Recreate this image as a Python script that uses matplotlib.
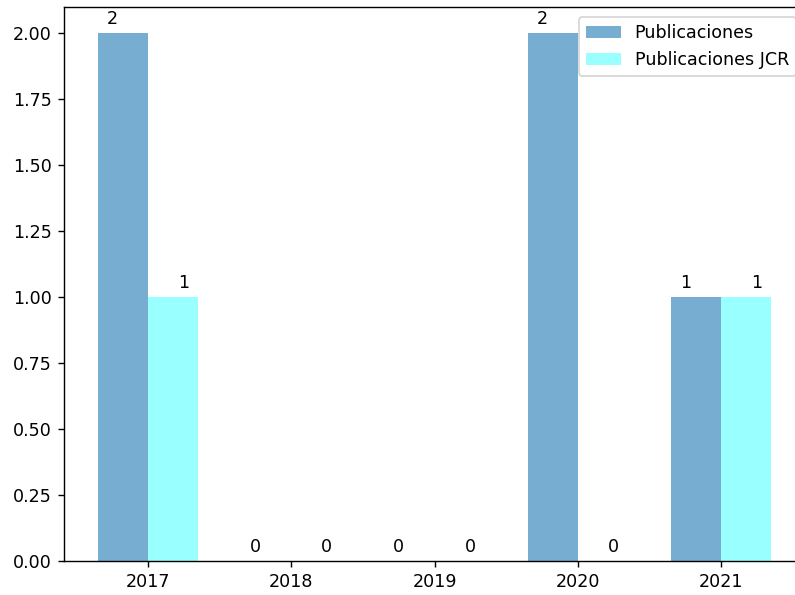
import numpy as np
import matplotlib
matplotlib.use("Agg")
import matplotlib.pyplot as plt

years = ["2017", "2018", "2019", "2020", "2021"]
publicaciones = [2, 0, 0, 2, 1]
publicaciones_jcr = [1, 0, 0, 0, 1]

x = np.arange(len(years))
width = 0.35

DPI = 126
fig = plt.figure(figsize=(795 / DPI, 595 / DPI), dpi=DPI)
ax = fig.add_axes([64 / 795, 34 / 595, 741 / 795, 554.4 / 595])

rects1 = ax.bar(x - width / 2, publicaciones, width, label="Publicaciones",
                color="#1f77b4", alpha=0.6)
rects2 = ax.bar(x + width / 2, publicaciones_jcr, width, label="Publicaciones JCR",
                color="cyan", alpha=0.4)

ax.set_xticks(x)
ax.set_xticklabels(years)
ax.legend(loc="upper right", bbox_to_anchor=(0.988, 0.981), borderaxespad=0)


def autolabel(rects, dx):
    for rect in rects:
        h = rect.get_height()
        ax.annotate("{}".format(h),
                    xy=(rect.get_x() + rect.get_width() / 2, h),
                    xytext=(dx, 3), textcoords="offset points",
                    ha="center", va="bottom")


autolabel(rects1, -6)
autolabel(rects2, 6)

fig.savefig("out.png", dpi=DPI)
